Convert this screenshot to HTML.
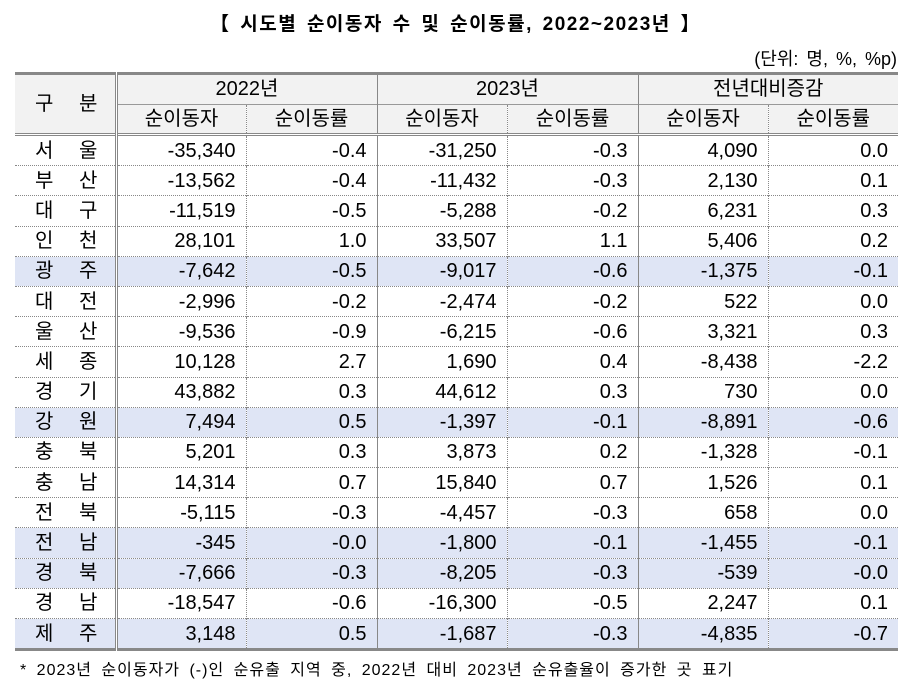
<!DOCTYPE html>
<html><head><meta charset="utf-8"><style>
body{margin:0;width:911px;height:700px;background:#fff;font-family:"Liberation Sans","Noto Sans CJK KR",sans-serif;color:#000;position:relative;overflow:hidden}
#title{position:absolute;top:9px;left:0;width:911px;text-align:center;font-weight:bold;font-size:19px;letter-spacing:1.5px;word-spacing:3px}
#unit{position:absolute;top:45px;right:14px;font-size:18px;word-spacing:3px}
table{position:absolute;left:15px;top:72px;width:883px;border-collapse:collapse;table-layout:fixed;font-size:20px}
td{padding:0 10px;height:29.2px;line-height:26px;text-align:right;border-left:1px dotted #888;border-top:1px dotted #888;white-space:nowrap;overflow:hidden}
thead td{text-align:center;background:#f2f2f2;height:28.5px;border-top:1px solid #999}
thead tr:first-child td{border-top:3px solid #888}
td.g{border-left:1.5px solid #888}
td.lab{text-align:center;border-left:none;border-right:3px double #888;letter-spacing:10px;padding-left:20px}
tbody tr:first-child td{border-top:3px double #888}
tbody tr:last-child td{border-bottom:3px solid #888}
tr.h td{background:#dfe5f5}
#note{position:absolute;top:656px;left:20px;font-size:16px;letter-spacing:1px;word-spacing:4px}
</style></head><body>
<div id="title">【 시도별 순이동자 수 및 순이동률, 2022~2023년 】</div>
<div id="unit">(단위: 명, %, %p)</div>
<table>
<colgroup><col style="width:101px"><col style="width:130px"><col style="width:131px"><col style="width:130px"><col style="width:131px"><col style="width:130px"><col style="width:130px"></colgroup>
<thead>
<tr><td class="lab" rowspan="2">구 분</td><td colspan="2" class="g">2022년</td><td colspan="2" class="g">2023년</td><td colspan="2" class="g">전년대비증감</td></tr>
<tr><td class="g">순이동자</td><td>순이동률</td><td class="g">순이동자</td><td>순이동률</td><td class="g">순이동자</td><td>순이동률</td></tr>
</thead>
<tbody id="tb"></tbody>
</table>
<div id="note">* 2023년 순이동자가 (-)인 순유출 지역 중, 2022년 대비 2023년 순유출율이 증가한 곳 표기</div>
<script>
const regions=["서울","부산","대구","인천","광주","대전","울산","세종","경기","강원","충북","충남","전북","전남","경북","경남","제주"];
const mig2022=["-35,340","-13,562","-11,519","28,101","-7,642","-2,996","-9,536","10,128","43,882","7,494","5,201","14,314","-5,115","-345","-7,666","-18,547","3,148"];
const rate2022=["-0.4","-0.4","-0.5","1.0","-0.5","-0.2","-0.9","2.7","0.3","0.5","0.3","0.7","-0.3","-0.0","-0.3","-0.6","0.5"];
const mig2023=["-31,250","-11,432","-5,288","33,507","-9,017","-2,474","-6,215","1,690","44,612","-1,397","3,873","15,840","-4,457","-1,800","-8,205","-16,300","-1,687"];
const rate2023=["-0.3","-0.3","-0.2","1.1","-0.6","-0.2","-0.6","0.4","0.3","-0.1","0.2","0.7","-0.3","-0.1","-0.3","-0.5","-0.3"];
const migDiff=["4,090","2,130","6,231","5,406","-1,375","522","3,321","-8,438","730","-8,891","-1,328","1,526","658","-1,455","-539","2,247","-4,835"];
const rateDiff=["0.0","0.1","0.3","0.2","-0.1","0.0","0.3","-2.2","0.0","-0.6","-0.1","0.1","0.0","-0.1","-0.0","0.1","-0.7"];
const highlighted=["광주","강원","전남","경북","제주"];
const tb=document.getElementById('tb');
regions.forEach((r,i)=>{
 const tr=document.createElement('tr');
 
 
 if(highlighted.includes(r))tr.className='h';
 const vals=[r.split('').join(' '),mig2022[i],rate2022[i],mig2023[i],rate2023[i],migDiff[i],rateDiff[i]];
 vals.forEach((v,j)=>{
  const td=document.createElement('td');
  
  
  if(j===0)td.className='lab';else if(j%2===1)td.className='g';
  td.textContent=v;tr.appendChild(td);
 });
 tb.appendChild(tr);
});
</script>
</body></html>
